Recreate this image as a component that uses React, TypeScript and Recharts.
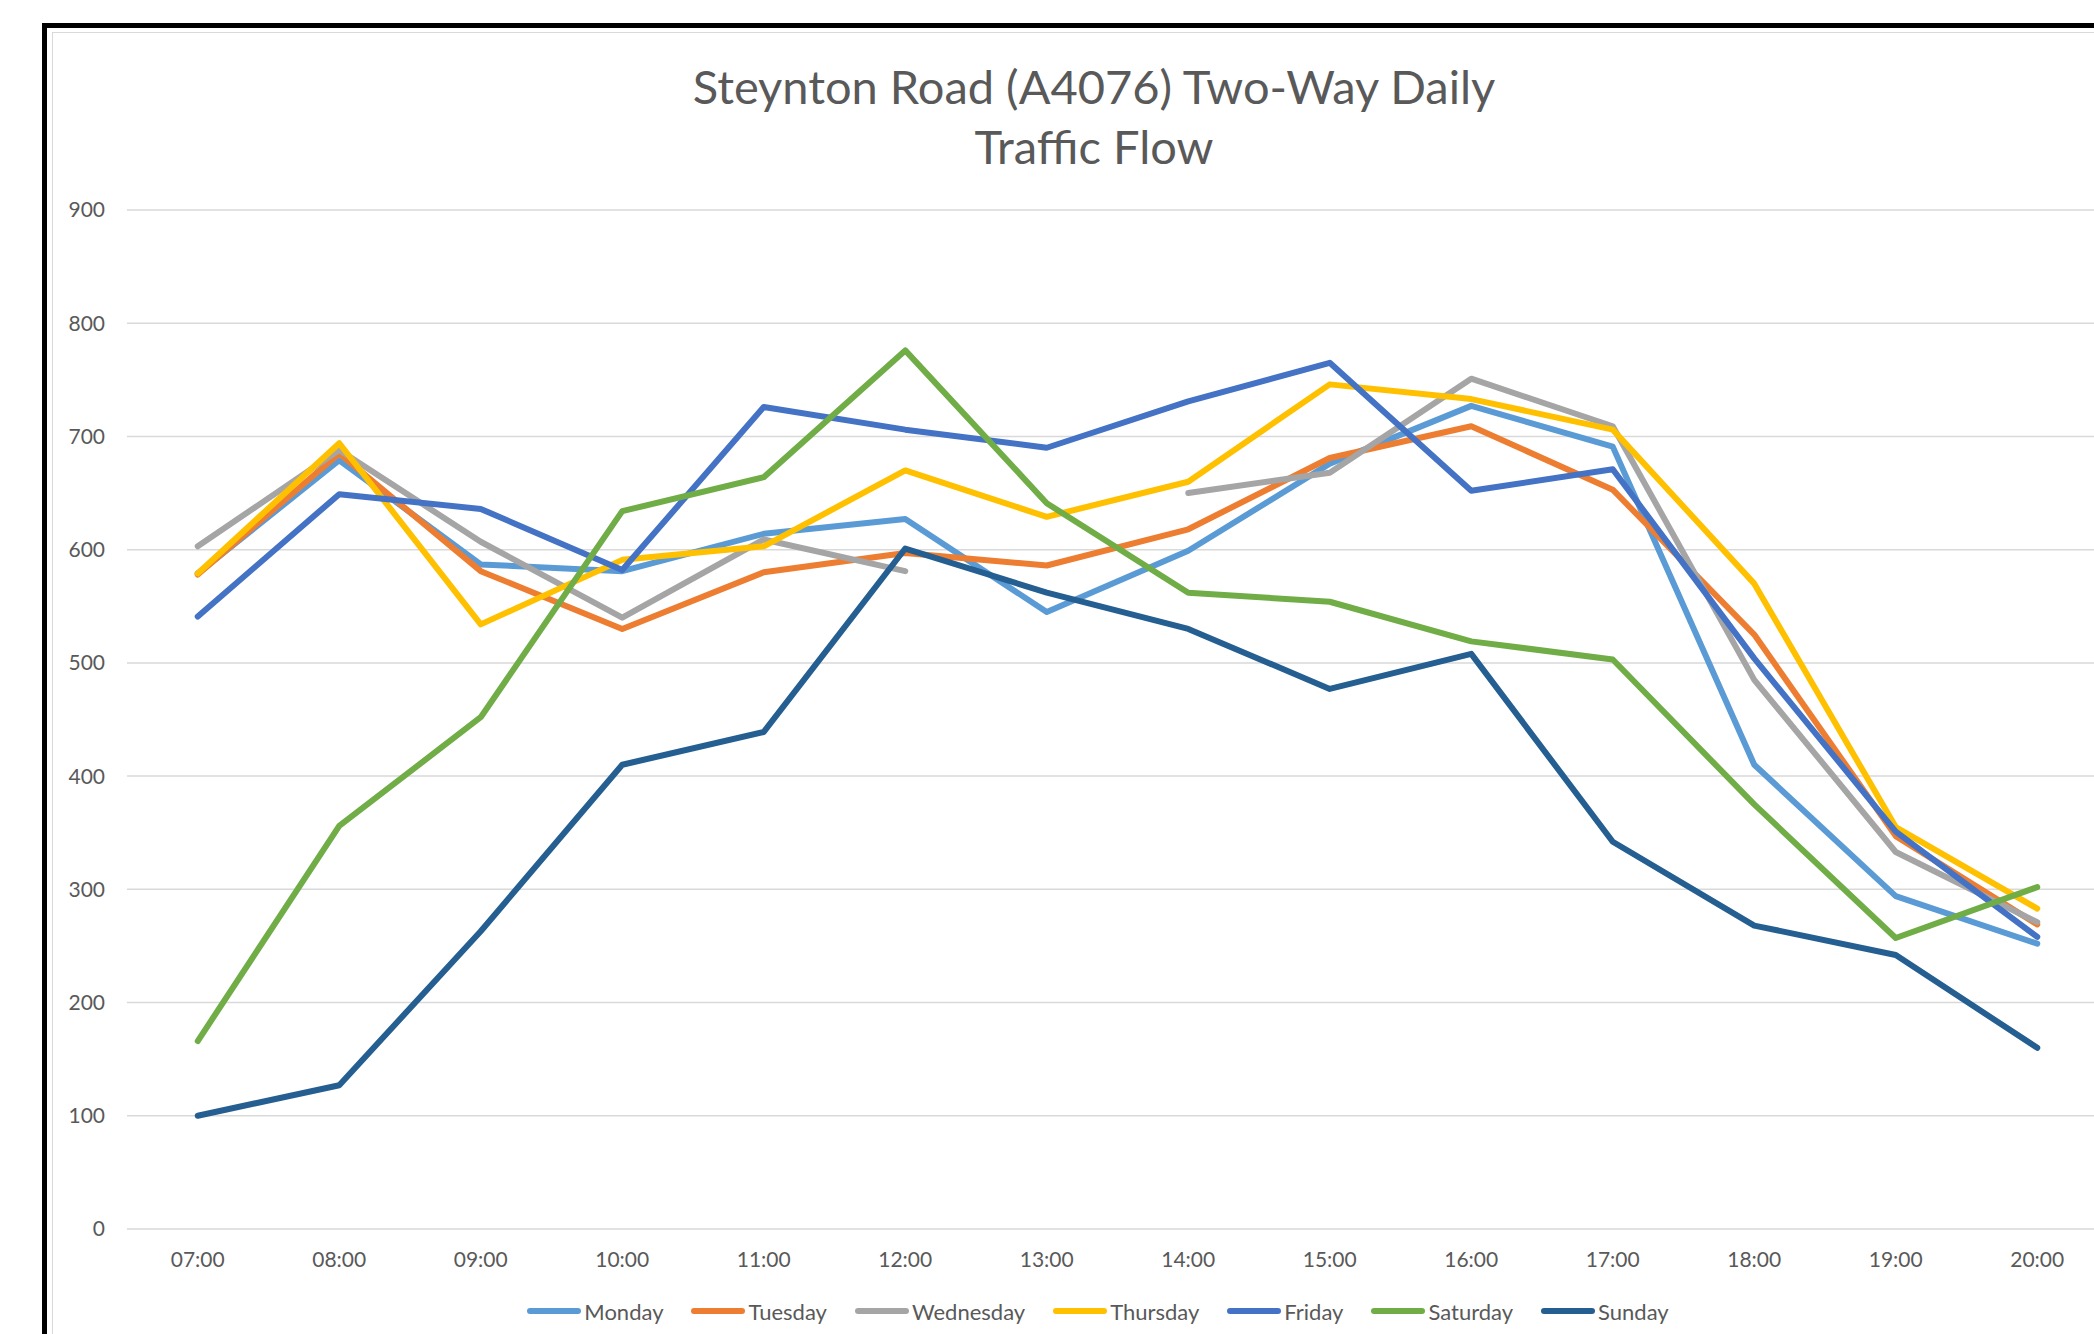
import { CartesianGrid, Legend, Line, LineChart, XAxis, YAxis } from "recharts";

const HOURS = [
  "07:00", "08:00", "09:00", "10:00", "11:00", "12:00", "13:00",
  "14:00", "15:00", "16:00", "17:00", "18:00", "19:00", "20:00",
];

const MONDAY = [579, 679, 587, 581, 614, 627, 545, 599, 676, 727, 691, 410, 294, 252];
const TUESDAY = [578, 685, 581, 530, 580, 597, 586, 618, 681, 709, 653, 525, 347, 269];
// no count for Wednesday 13:00, so the line breaks there
const WEDNESDAY = [603, 688, 607, 540, 609, 581, null, 650, 668, 751, 709, 485, 333, 271];
const THURSDAY = [579, 694, 534, 591, 603, 670, 629, 660, 746, 733, 706, 570, 355, 283];
const FRIDAY = [541, 649, 636, 582, 726, 706, 690, 731, 765, 652, 671, 504, 351, 258];
const SATURDAY = [166, 356, 452, 634, 664, 776, 641, 562, 554, 519, 503, 375, 257, 302];
const SUNDAY = [100, 127, 263, 410, 439, 601, 562, 530, 477, 508, 342, 268, 242, 160];

const Y_TICKS = [0, 100, 200, 300, 400, 500, 600, 700, 800, 900];

const SERIES: { name: string; values: (number | null)[] }[] = [
  { name: "Monday", values: MONDAY },
  { name: "Tuesday", values: TUESDAY },
  { name: "Wednesday", values: WEDNESDAY },
  { name: "Thursday", values: THURSDAY },
  { name: "Friday", values: FRIDAY },
  { name: "Saturday", values: SATURDAY },
  { name: "Sunday", values: SUNDAY },
];

const COLORS: Record<string, string> = {
  Monday: "#5B9BD5",
  Tuesday: "#ED7D31",
  Wednesday: "#A5A5A5",
  Thursday: "#FFC000",
  Friday: "#4472C4",
  Saturday: "#70AD47",
  Sunday: "#255E91",
};

const data = HOURS.map((hour, i) => {
  const row: Record<string, string | number | null> = { hour };
  SERIES.forEach((s) => {
    row[s.name] = s.values[i];
  });
  return row;
});

const FONT = "Lato, 'Open Sans', sans-serif";
const TEXT = "#595959";
const CHART_W = 2196;
const CHART_H = 1334;
const HALF_BAND = 70.75;

// legend keeps the series order (Recharts sorts its payload by name)
function LegendRow() {
  return (
    <div
      style={{
        display: "flex",
        justifyContent: "center",
        alignItems: "center",
        fontFamily: FONT,
        fontSize: 22,
        color: TEXT,
        height: 30,
      }}
    >
      {SERIES.map((s, i) => (
        <div
          key={s.name}
          style={{ display: "flex", alignItems: "center", marginLeft: i === 0 ? 0 : 28 }}
        >
          <span
            style={{
              display: "inline-block",
              width: 54,
              height: 6,
              borderRadius: 3,
              background: COLORS[s.name],
              marginRight: 3,
            }}
          />
          <span>{s.name}</span>
        </div>
      ))}
    </div>
  );
}

export default function App() {
  return (
    <div
      style={{
        position: "fixed",
        left: 0,
        top: 0,
        width: 2094,
        height: 1334,
        overflow: "hidden",
        background: "#fff",
      }}
    >
      {/* outer black frame, runs off the right and bottom */}
      <div
        style={{
          position: "absolute",
          left: 42,
          top: 23,
          width: 3000,
          height: 3000,
          border: "5px solid #000",
        }}
      />
      <div
        style={{
          position: "absolute",
          left: 52,
          top: 32,
          width: 3000,
          height: 3000,
          border: "1.5px solid #D9D9D9",
        }}
      />
      <div
        style={{
          position: "absolute",
          left: 0,
          top: 56,
          width: 2188,
          textAlign: "center",
          fontFamily: FONT,
          fontSize: 47,
          lineHeight: "60px",
          color: TEXT,
        }}
      >
        Steynton Road (A4076) Two-Way Daily
        <br />
        Traffic Flow
      </div>
      <div style={{ position: "absolute", left: 0, top: 0 }}>
        <LineChart
          width={CHART_W}
          height={CHART_H}
          data={data}
          margin={{ top: 210, right: 88, bottom: 65, left: 47 }}
        >
          <CartesianGrid vertical={false} stroke="#D9D9D9" strokeWidth={1.5} />
          <XAxis
            dataKey="hour"
            axisLine={false}
            tickLine={false}
            height={40}
            tickMargin={17}
            interval={0}
            padding={{ left: HALF_BAND, right: HALF_BAND }}
            tick={{ fill: TEXT, fontSize: 21, fontFamily: FONT }}
          />
          <YAxis
            domain={[0, 900]}
            ticks={Y_TICKS}
            axisLine={false}
            tickLine={false}
            width={80}
            tickMargin={16}
            tick={{ fill: TEXT, fontSize: 21, fontFamily: FONT }}
          />
          <Legend
            layout="horizontal"
            verticalAlign="middle"
            align="center"
            wrapperStyle={{ top: 1296, left: 0, width: CHART_W }}
            content={<LegendRow />}
          />
          {SERIES.map((s) => (
            <Line
              key={s.name}
              type="linear"
              dataKey={s.name}
              name={s.name}
              stroke={COLORS[s.name]}
              strokeWidth={6}
              strokeLinecap="round"
              strokeLinejoin="round"
              dot={false}
              activeDot={false}
              connectNulls={false}
              isAnimationActive={false}
            />
          ))}
        </LineChart>
      </div>
    </div>
  );
}
